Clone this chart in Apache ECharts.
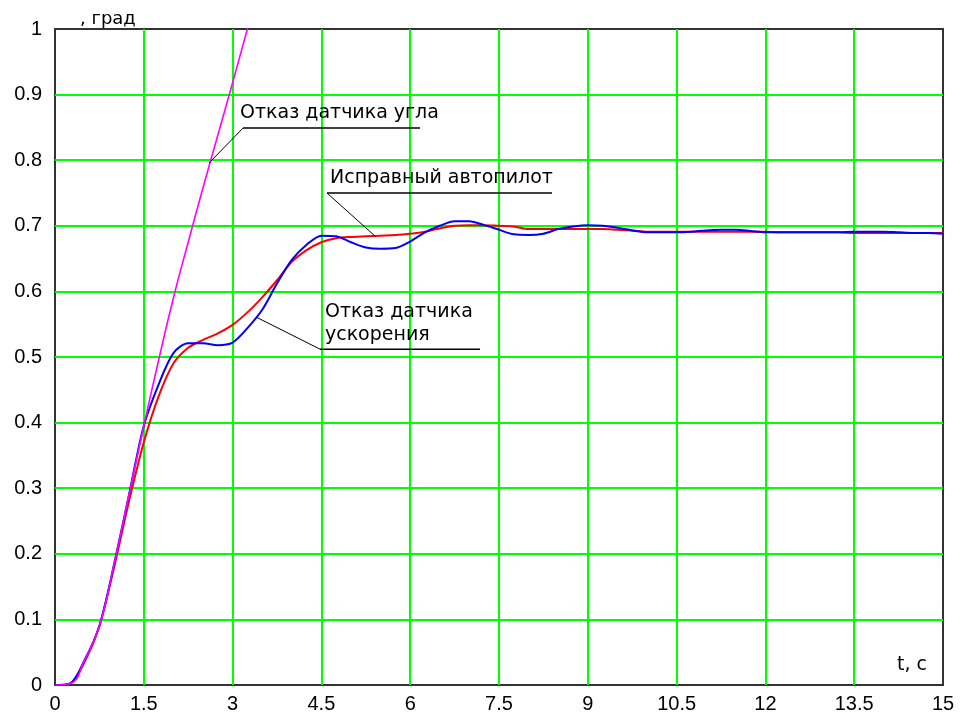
<!DOCTYPE html>
<html>
<head>
<meta charset="utf-8">
<script src="https://cdn.jsdelivr.net/npm/echarts@6/dist/echarts.min.js"></script>
<style>
html,body{margin:0;padding:0;background:#fff;}
#c{width:963px;height:722px;}
</style>
</head>
<body>
<div id="c"></div>
<script>
// time grid (s)
var times = [0,0.25,0.5,0.75,1,1.25,1.5,1.75,2,2.25,2.5,2.75,3,3.25,3.5,3.75,4,4.25,4.5,4.75,5,5.25,5.5,5.75,6,6.25,6.5,6.75,7,7.25,7.5,7.75,8,8.25,8.5,8.75,9,9.25,9.5,9.75,10,10.25,10.5,10.75,11,11.25,11.5,11.75,12,12.25,12.5,12.75,13,13.25,13.5,13.75,14,14.25,14.5,14.75,15];
// "Исправный автопилот" (red)
var healthy = [0,0.002,0.035,0.09,0.18,0.28,0.37,0.44,0.49,0.514,0.526,0.536,0.549,0.568,0.591,0.617,0.645,0.663,0.675,0.681,0.683,0.684,0.685,0.686,0.688,0.691,0.696,0.700,0.701,0.701,0.700,0.699,0.695,0.695,0.695,0.695,0.695,0.695,0.694,0.693,0.691,0.691,0.691,0.691,0.691,0.691,0.691,0.691,0.691,0.690,0.690,0.690,0.690,0.690,0.689,0.689,0.689,0.689,0.689,0.689,0.689];
// "Отказ датчика ускорения" (blue)
var accelFail = [0,0.002,0.038,0.09,0.185,0.29,0.395,0.458,0.506,0.521,0.521,0.518,0.522,0.544,0.572,0.612,0.648,0.671,0.685,0.684,0.675,0.667,0.665,0.666,0.676,0.690,0.700,0.707,0.707,0.701,0.694,0.687,0.686,0.688,0.695,0.699,0.701,0.700,0.697,0.693,0.690,0.690,0.690,0.691,0.693,0.694,0.694,0.692,0.690,0.690,0.690,0.690,0.690,0.690,0.691,0.691,0.691,0.690,0.689,0.689,0.688];
// "Отказ датчика угла" (magenta), first part of the time grid only
var angleFail = [0,0.002,0.038,0.09,0.185,0.29,0.395,0.495,0.59,0.675,0.758,0.838,0.918,1.0,1.08];

var xTicks = {min:0, max:15, interval:1.5};
var yTicks = {min:0, max:1, interval:0.1};

function pairs(vals){ return vals.map(function(v,i){ return [times[i], v]; }); }

var chart = echarts.init(document.getElementById('c'), null, {renderer:'canvas'});
var labelFont = {color:'#000', fontFamily:'Liberation Sans, Arial, sans-serif', fontSize:20};
var green = '#00ff00';

chart.setOption({
  animation:false,
  backgroundColor:'#fff',
  grid:{left:55, right:20, top:29, bottom:37, show:true, borderColor:'#333', borderWidth:2, backgroundColor:'transparent'},
  xAxis:{type:'value', min:xTicks.min, max:xTicks.max, interval:xTicks.interval,
    axisLine:{show:false}, axisTick:{show:false},
    axisLabel:Object.assign({margin:9, formatter:function(v){return String(+v.toFixed(1));}}, labelFont),
    splitLine:{show:true, showMinLine:false, showMaxLine:false, lineStyle:{color:green, width:2}}},
  yAxis:{type:'value', min:yTicks.min, max:yTicks.max, interval:yTicks.interval,
    axisLine:{show:false}, axisTick:{show:false},
    axisLabel:Object.assign({margin:13, formatter:function(v){return String(+v.toFixed(1));}}, labelFont),
    splitLine:{show:true, showMinLine:false, showMaxLine:false, lineStyle:{color:green, width:2}}},
  series:[
    {type:'line', data:pairs(healthy), showSymbol:false, smooth:0.3, lineStyle:{color:'#ff0000', width:2}, clip:true, z:3},
    {type:'line', data:pairs(accelFail), showSymbol:false, smooth:0.3, lineStyle:{color:'#0000ff', width:2}, clip:true, z:4},
    {type:'line', data:pairs(angleFail), showSymbol:false, smooth:0.5, lineStyle:{color:'#ff00ff', width:1.6}, clip:true, z:5}
  ]
});

// annotations in data coordinates
var notes = [
  {text:'Отказ датчика угла', textAt:[3.125,0.849], ul:[[3.176,0.849],[6.166,0.849]], anchor:[2.606,0.796]},
  {text:'Исправный автопилот', textAt:[4.645,0.750], ul:[[4.595,0.750],[8.395,0.750]], anchor:[5.422,0.683]},
  {text:'Отказ датчика\nускорения', textAt:[4.56,0.512], ul:[[4.476,0.512],[7.18,0.512]], anchor:[3.395,0.561]}
];
function px(p){ return chart.convertToPixel({gridIndex:0}, p); }
var els = [];
notes.forEach(function(n){
  var a = px(n.anchor), u0 = px(n.ul[0]), u1 = px(n.ul[1]), t = px(n.textAt);
  els.push({type:'line', shape:{x1:a[0], y1:a[1], x2:u0[0], y2:u0[1]}, style:{stroke:'#000', lineWidth:1}, z:10});
  els.push({type:'line', shape:{x1:u0[0], y1:u0[1], x2:u1[0], y2:u1[1]}, style:{stroke:'#000', lineWidth:1.5}, z:10});
  els.push({type:'text', x:t[0], y:t[1]-3, style:{text:n.text, fill:'#000', font:'19px "DejaVu Sans", sans-serif', textAlign:'left', textVerticalAlign:'bottom', lineHeight:23}, z:10});
});
var tl = px([15,0]);
els.push({type:'text', x:tl[0]-16, y:tl[1]-10, style:{text:'t, c', fill:'#000', font:'19px "DejaVu Sans", sans-serif', textAlign:'right', textVerticalAlign:'bottom'}, z:10});
var yl = px([0,1]);
els.push({type:'text', x:yl[0]+25, y:yl[1]-1, style:{text:', град', fill:'#000', font:'18px "DejaVu Sans", sans-serif', textAlign:'left', textVerticalAlign:'bottom'}, z:10});
chart.setOption({graphic:{elements:els}});
</script>
</body>
</html>
